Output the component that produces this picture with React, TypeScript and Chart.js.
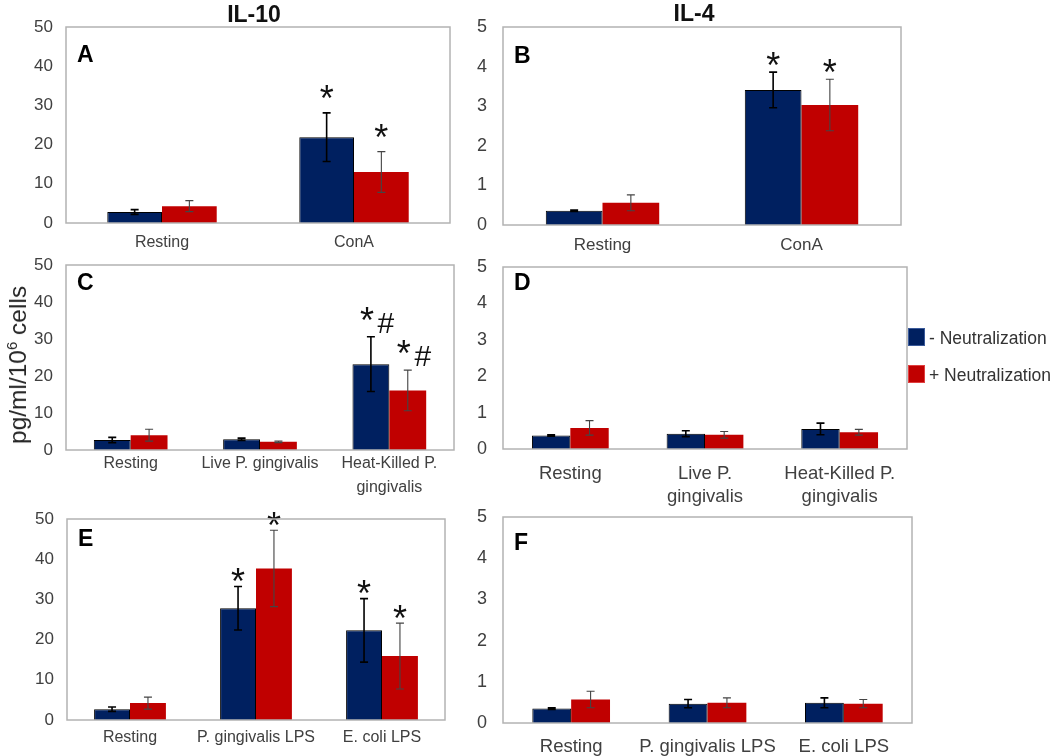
import React, { useEffect, useRef } from "react";
import { Chart, registerables } from "chart.js";
Chart.register(...registerables);

const FONT = '"Liberation Sans", Arial, sans-serif';
const BLUE = "#002060";
const RED = "#c00000";
const TEXT = "#404040";

// ---- Panel A : IL-10, mitogen ----
const catsA = ["Resting", "ConA"];
const blueA = [2.8, 21.9];
const blueErrA = [0.6, 6.2];
const redA = [4.3, 13.0];
const redErrA = [1.4, 5.2];
const blueMarkA = ["", "*"];
const redMarkA = ["", "*"];

// ---- Panel B : IL-4, mitogen ----
const catsB = ["Resting", "ConA"];
const blueB = [0.36, 3.41];
const blueErrB = [0.02, 0.45];
const redB = [0.56, 3.03];
const redErrB = [0.2, 0.65];
const blueMarkB = ["", "*"];
const redMarkB = ["", "*"];

// ---- Panel C : IL-10, live / heat-killed ----
const catsC = ["Resting", "Live P. gingivalis", ["Heat-Killed P.", "gingivalis"]];
const blueC = [2.7, 2.9, 23.2];
const blueErrC = [0.7, 0.3, 7.4];
const redC = [4.0, 2.2, 16.1];
const redErrC = [1.6, 0.2, 5.5];
const blueMarkC = ["", "", "*#"];
const redMarkC = ["", "", "*#"];

// ---- Panel D : IL-4, live / heat-killed ----
const catsD = ["Resting", ["Live P.", "gingivalis"], ["Heat-Killed P.", "gingivalis"]];
const blueD = [0.37, 0.42, 0.55];
const blueErrD = [0.02, 0.08, 0.16];
const redD = [0.58, 0.39, 0.46];
const redErrD = [0.2, 0.09, 0.08];
const blueMarkD = ["", "", ""];
const redMarkD = ["", "", ""];

// ---- Panel E : IL-10, LPS ----
const catsE = ["Resting", "P. gingivalis LPS", "E. coli LPS"];
const blueE = [2.7, 27.8, 22.3];
const blueErrE = [0.55, 5.4, 7.9];
const redE = [4.2, 37.7, 15.9];
const redErrE = [1.5, 9.5, 8.2];
const blueMarkE = ["", "*", "*"];
const redMarkE = ["", "*", "*"];

// ---- Panel F : IL-4, LPS ----
const catsF = ["Resting", "P. gingivalis LPS", "E. coli LPS"];
const blueF = [0.35, 0.47, 0.49];
const blueErrF = [0.02, 0.1, 0.12];
const redF = [0.57, 0.49, 0.47];
const redErrF = [0.2, 0.12, 0.1];
const blueMarkF = ["", "", ""];
const redMarkF = ["", "", ""];

const seriesNames = ["- Neutralization", "+ Neutralization"];

type PanelCfg = {
  letter: string;
  rect: { x: number; y: number; w: number; h: number };
  cats: any[];
  blue: number[]; blueErr: number[]; blueMarks: string[];
  red: number[]; redErr: number[]; redMarks: string[];
  yMax: number; step: number;
  yFont: number; yPad: number;
  xFont: number; xLine: number; xPad: number;
  letterBase: number; markLift: number;
};

const AX = 70, PT = 14, PR = 8, BX = 62;

const panels: PanelCfg[] = [
  { letter: "A", rect: { x: 66, y: 27, w: 384, h: 196 }, cats: catsA,
    blue: blueA, blueErr: blueErrA, blueMarks: blueMarkA, red: redA, redErr: redErrA, redMarks: redMarkA,
    yMax: 50, step: 10, yFont: 17, yPad: 13, xFont: 16, xLine: 1.2, xPad: 10, letterBase: 35, markLift: 1.5 },
  { letter: "B", rect: { x: 503, y: 27, w: 398, h: 198 }, cats: catsB,
    blue: blueB, blueErr: blueErrB, blueMarks: blueMarkB, red: redB, redErr: redErrB, redMarks: redMarkB,
    yMax: 5, step: 1, yFont: 18, yPad: 16, xFont: 17, xLine: 1.2, xPad: 10, letterBase: 36, markLift: -5.5 },
  { letter: "C", rect: { x: 66, y: 265, w: 388, h: 185 }, cats: catsC,
    blue: blueC, blueErr: blueErrC, blueMarks: blueMarkC, red: redC, redErr: redErrC, redMarks: redMarkC,
    yMax: 50, step: 10, yFont: 17, yPad: 13, xFont: 16, xLine: 1.5, xPad: 2, letterBase: 25, markLift: 4 },
  { letter: "D", rect: { x: 503, y: 267, w: 404, h: 182 }, cats: catsD,
    blue: blueD, blueErr: blueErrD, blueMarks: blueMarkD, red: redD, redErr: redErrD, redMarks: redMarkD,
    yMax: 5, step: 1, yFont: 18, yPad: 16, xFont: 18.5, xLine: 1.25, xPad: 13, letterBase: 23, markLift: 0 },
  { letter: "E", rect: { x: 67, y: 519, w: 378, h: 201 }, cats: catsE,
    blue: blueE, blueErr: blueErrE, blueMarks: blueMarkE, red: redE, redErr: redErrE, redMarks: redMarkE,
    yMax: 50, step: 10, yFont: 17, yPad: 13, xFont: 16, xLine: 1.2, xPad: 8, letterBase: 27, markLift: -7.5 },
  { letter: "F", rect: { x: 503, y: 517, w: 409, h: 206 }, cats: catsF,
    blue: blueF, blueErr: blueErrF, blueMarks: blueMarkF, red: redF, redErr: redErrF, redMarks: redMarkF,
    yMax: 5, step: 1, yFont: 18, yPad: 16, xFont: 18.5, xLine: 1.25, xPad: 12, letterBase: 33, markLift: 0 },
];

function drawMark(ctx: CanvasRenderingContext2D, mark: string, x: number, base: number) {
  ctx.fillStyle = "#111";
  ctx.textAlign = "center";
  ctx.textBaseline = "alphabetic";
  if (mark.includes("#")) {
    ctx.font = `36px ${FONT}`;
    ctx.fillText("*", x - 4, base);
    ctx.font = `30px ${FONT}`;
    ctx.fillText("#", x + 15, base);
  } else {
    ctx.font = `36px ${FONT}`;
    ctx.fillText(mark, x, base);
  }
}

function Panel({ cfg }: { cfg: PanelCfg }) {
  const ref = useRef<HTMLCanvasElement | null>(null);
  const W = cfg.rect.w + AX + PR;
  const H = cfg.rect.h + PT + BX;
  useEffect(() => {
    if (!ref.current) return;
    const series = [
      { values: cfg.blue, errs: cfg.blueErr, marks: cfg.blueMarks, errColor: "#000", errWidth: 1.6 },
      { values: cfg.red, errs: cfg.redErr, marks: cfg.redMarks, errColor: "#444", errWidth: 1.1 },
    ];
    const overlay = {
      id: "overlay" + cfg.letter,
      afterDatasetsDraw(chart: any) {
        const ctx: CanvasRenderingContext2D = chart.ctx;
        const { left, top, right, bottom } = chart.chartArea;
        const ys = chart.scales.y;
        ctx.save();
        series.forEach((s, i) => {
          const meta = chart.getDatasetMeta(i);
          meta.data.forEach((el: any, j: number) => {
            const v = s.values[j], e = s.errs[j];
            const x = el.x;
            const yt = ys.getPixelForValue(v + e);
            const yb = ys.getPixelForValue(v - e);
            ctx.strokeStyle = s.errColor;
            ctx.lineWidth = s.errWidth;
            ctx.beginPath();
            ctx.moveTo(x, yt); ctx.lineTo(x, yb);
            ctx.moveTo(x - 4, yt); ctx.lineTo(x + 4, yt);
            ctx.moveTo(x - 4, yb); ctx.lineTo(x + 4, yb);
            ctx.stroke();
            const m = s.marks[j];
            if (m) drawMark(ctx, m, x, yt - cfg.markLift);
          });
        });
        ctx.strokeStyle = "#b3b3b3";
        ctx.lineWidth = 1.5;
        ctx.strokeRect(left, top, right - left, bottom - top);
        ctx.fillStyle = "#000";
        ctx.font = `bold 23px ${FONT}`;
        ctx.textAlign = "left";
        ctx.textBaseline = "alphabetic";
        ctx.fillText(cfg.letter, left + 11, top + cfg.letterBase);
        ctx.restore();
      },
    };
    const chart = new Chart(ref.current, {
      type: "bar",
      data: {
        labels: cfg.cats,
        datasets: [
          { label: seriesNames[0], data: cfg.blue, backgroundColor: BLUE, borderColor: "#000", borderWidth: 1,
            categoryPercentage: 0.57, barPercentage: 1.0 },
          { label: seriesNames[1], data: cfg.red, backgroundColor: RED, borderColor: RED, borderWidth: 0,
            categoryPercentage: 0.57, barPercentage: 1.0 },
        ],
      },
      options: {
        responsive: false,
        animation: false,
        devicePixelRatio: 1,
        layout: { padding: { top: PT, right: PR, left: 0, bottom: 0 } },
        plugins: { legend: { display: false }, tooltip: { enabled: false }, title: { display: false } },
        scales: {
          x: {
            grid: { display: false, drawTicks: false },
            border: { display: false },
            ticks: {
              font: { family: FONT, size: cfg.xFont, lineHeight: cfg.xLine },
              color: TEXT, padding: cfg.xPad, maxRotation: 0, autoSkip: false,
            },
            afterFit: (s: any) => { s.height = BX; s.paddingLeft = 0; s.paddingRight = 0; },
          },
          y: {
            min: 0, max: cfg.yMax,
            grid: { display: false, drawTicks: false },
            border: { display: false },
            ticks: { stepSize: cfg.step, font: { family: FONT, size: cfg.yFont }, color: TEXT, padding: cfg.yPad },
            afterFit: (s: any) => { s.width = AX; s.paddingTop = 0; s.paddingBottom = 0; },
          },
        },
      },
      plugins: [overlay],
    } as any);
    return () => chart.destroy();
  }, []);
  return (
    <canvas
      ref={ref}
      width={W}
      height={H}
      style={{ position: "absolute", left: cfg.rect.x - AX, top: cfg.rect.y - PT, width: W, height: H }}
    />
  );
}

export default function App() {
  const txt: React.CSSProperties = { position: "absolute", fontFamily: FONT, whiteSpace: "nowrap", color: "#262626" };
  return (
    <div style={{ position: "absolute", left: 0, top: 0, width: 1050, height: 756, overflow: "hidden", background: "#fff" }}>
      {panels.map((p) => <Panel key={p.letter} cfg={p} />)}
      <div style={{ ...txt, left: 254, top: 14, transform: "translate(-50%,-50%)", fontWeight: "bold", fontSize: 23, color: "#111" }}>IL-10</div>
      <div style={{ ...txt, left: 694, top: 13, transform: "translate(-50%,-50%)", fontWeight: "bold", fontSize: 23, color: "#111" }}>IL-4</div>
      <div style={{ ...txt, left: 18, top: 365, transform: "translate(-50%,-50%) rotate(-90deg)", fontSize: 24.5 }}>
        pg/ml/10<sup style={{ fontSize: 15, verticalAlign: "super", lineHeight: 0 }}>6</sup> cells
      </div>
      <div style={{ position: "absolute", left: 908, top: 328, width: 17, height: 18, background: BLUE, boxSizing: "border-box", border: "1px solid #3a5a9a" }} />
      <div style={{ ...txt, left: 929, top: 338, transform: "translateY(-50%)", fontSize: 17.5, color: "#333" }}>{seriesNames[0]}</div>
      <div style={{ position: "absolute", left: 908, top: 365, width: 17, height: 18, background: RED, boxSizing: "border-box", border: "1px solid #e04040" }} />
      <div style={{ ...txt, left: 929, top: 375, transform: "translateY(-50%)", fontSize: 17.5, color: "#333" }}>{seriesNames[1]}</div>
    </div>
  );
}
